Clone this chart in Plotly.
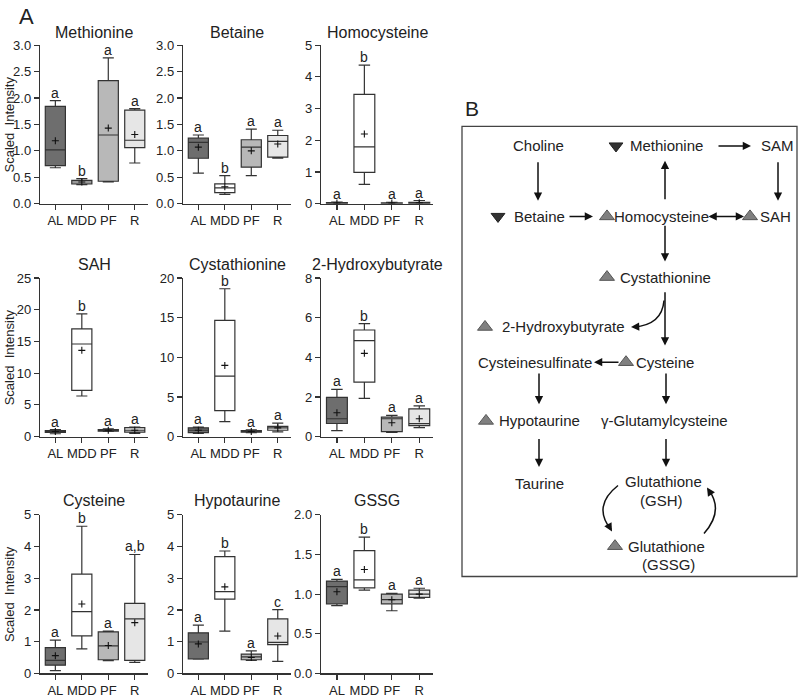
import plotly.graph_objects as go

# ---------------- data ----------------
GROUPS = ["AL", "MDD", "PF", "R"]

# each row: [lowerfence, q1, median, q3, upperfence, mean] for AL, MDD, PF, R
methionine = [[0.68, 0.72, 1.02, 1.84, 1.95, 1.19],
              [0.36, 0.375, 0.41, 0.44, 0.475, 0.41],
              [0.41, 0.425, 1.30, 2.33, 2.76, 1.43],
              [0.77, 1.06, 1.20, 1.77, 1.80, 1.31]]
methionine_letters = ["a", "b", "a", "a"]

betaine = [[0.58, 0.86, 1.16, 1.24, 1.30, 1.07],
           [0.175, 0.21, 0.30, 0.375, 0.53, 0.32],
           [0.53, 0.69, 1.07, 1.21, 1.41, 1.00],
           [0.86, 0.88, 1.18, 1.29, 1.39, 1.13]]
betaine_letters = ["a", "b", "a", "a"]

homocysteine = [[0.005, 0.01, 0.02, 0.035, 0.05, 0.02],
                [0.61, 0.99, 1.79, 3.45, 4.37, 2.20],
                [0.005, 0.01, 0.02, 0.03, 0.04, 0.02],
                [0.005, 0.01, 0.02, 0.04, 0.10, 0.03]]
homocysteine_letters = ["a", "b", "a", "a"]

sah = [[0.45, 0.65, 0.80, 0.95, 1.10, 0.80],
       [6.4, 7.3, 14.6, 17.0, 19.35, 13.6],
       [0.80, 0.85, 1.00, 1.10, 1.20, 1.00],
       [0.50, 0.70, 1.00, 1.40, 1.50, 1.00]]
sah_letters = ["a", "b", "a", "a"]

cystathionine = [[0.40, 0.50, 0.80, 1.10, 1.20, 0.80],
                 [1.89, 3.28, 7.62, 14.67, 18.65, 8.98],
                 [0.50, 0.55, 0.65, 0.75, 0.85, 0.65],
                 [0.60, 0.80, 1.10, 1.30, 1.70, 1.10]]
cystathionine_letters = ["a", "b", "a", "a"]

hydroxybutyrate = [[0.30, 0.66, 0.90, 1.98, 2.38, 1.20],
                   [1.93, 2.75, 4.84, 5.38, 5.70, 4.20],
                   [0.21, 0.25, 0.90, 0.98, 1.07, 0.70],
                   [0.45, 0.55, 0.65, 1.40, 1.55, 0.90]]
hydroxybutyrate_letters = ["a", "b", "a", "a"]

cysteine = [[0.09, 0.26, 0.41, 0.81, 1.05, 0.56],
            [0.77, 1.18, 1.95, 3.13, 4.64, 2.19],
            [0.40, 0.43, 0.87, 1.31, 1.33, 0.88],
            [0.35, 0.41, 1.72, 2.21, 3.75, 1.60]]
cysteine_letters = ["a", "b", "a", "a,b"]

hypotaurine = [[0.45, 0.46, 0.99, 1.28, 1.52, 0.93],
               [1.33, 2.34, 2.58, 3.68, 3.86, 2.73],
               [0.41, 0.43, 0.52, 0.61, 0.71, 0.50],
               [0.38, 0.91, 0.98, 1.72, 2.01, 1.18]]
hypotaurine_letters = ["a", "b", "a", "c"]

gssg = [[0.856, 0.877, 1.095, 1.165, 1.185, 1.03],
        [1.05, 1.08, 1.18, 1.55, 1.72, 1.31],
        [0.79, 0.877, 0.93, 1.00, 1.01, 0.93],
        [0.95, 0.96, 1.00, 1.05, 1.074, 1.00]]
gssg_letters = ["a", "b", "a", "a"]

TITLES = ["Methionine", "Betaine", "Homocysteine",
          "SAH", "Cystathionine", "2-Hydroxybutyrate",
          "Cysteine", "Hypotaurine", "GSSG"]
STATS = [methionine, betaine, homocysteine, sah, cystathionine,
         hydroxybutyrate, cysteine, hypotaurine, gssg]
LETTERS = [methionine_letters, betaine_letters, homocysteine_letters,
           sah_letters, cystathionine_letters, hydroxybutyrate_letters,
           cysteine_letters, hypotaurine_letters, gssg_letters]
Y_MAX = [3.0, 3.0, 5, 25, 20, 8, 5, 5, 2.0]
Y_DTICK = [0.5, 0.5, 1, 5, 5, 2, 1, 1, 0.5]
Y_FMT = [".1f", ".1f", "d", "d", "d", "d", "d", "d", ".1f"]

# ---------------- style / layout ----------------
W, H = 800, 699
FONT = "Liberation Sans, Arial, sans-serif"
FILLS = ["#6e6e6e", "#ffffff", "#b8b8b8", "#e6e6e6"]
LINE = "#333333"
COL_X = [(40, 148), (183, 291), (321, 433)]
ROW_Y = [(39, 201), (277, 439), (519, 681)]
TITLE_Y = [26, 263, 504]

fig = go.Figure()
layout = dict(width=W, height=H, margin=dict(l=0, r=0, t=0, b=0),
              paper_bgcolor="white", plot_bgcolor="rgba(0,0,0,0)",
              font=dict(family=FONT, color="#222"), showlegend=False,
              boxmode="overlay")
annotations = []
shapes = []

for k in range(9):
    r, c = divmod(k, 3)
    n = k + 1
    xn = "x" if n == 1 else f"x{n}"
    yn = "y" if n == 1 else f"y{n}"
    xk = "xaxis" if n == 1 else f"xaxis{n}"
    yk = "yaxis" if n == 1 else f"yaxis{n}"
    x0, x1 = COL_X[c]
    ytop, ybot = ROW_Y[r]
    layout[xk] = dict(domain=[x0 / W, x1 / W], range=[-0.58, 3.5], type="linear",
                      tickvals=[0, 1, 2, 3], ticktext=GROUPS, showline=True,
                      linecolor=LINE, linewidth=1.2, ticks="outside", ticklen=5,
                      tickcolor=LINE, tickwidth=1.2, showgrid=False, zeroline=False,
                      tickfont=dict(size=13, family=FONT, color="#222"),
                      anchor=yn, fixedrange=True)
    layout[yk] = dict(domain=[1 - ybot / H, 1 - ytop / H], range=[0, Y_MAX[k]],
                      dtick=Y_DTICK[k], tick0=0, tickformat=Y_FMT[k], showline=True,
                      linecolor=LINE, linewidth=1.2, ticks="outside", ticklen=5,
                      tickcolor=LINE, tickwidth=1.2, showgrid=False, zeroline=False,
                      tickfont=dict(size=13, family=FONT, color="#222"),
                      anchor=xn, fixedrange=True)
    st = STATS[k]
    for g in range(4):
        lo, q1, med, q3, hi, mean = st[g]
        fig.add_trace(go.Box(x=[g], q1=[q1], median=[med], q3=[q3],
                             lowerfence=[lo], upperfence=[hi],
                             fillcolor=FILLS[g], line=dict(color=LINE, width=1.2),
                             width=0.76, whiskerwidth=0.55, boxpoints=False,
                             xaxis=xn, yaxis=yn, hoverinfo="skip", showlegend=False))
        annotations.append(dict(x=g, y=hi, xref=xn, yref=yn, text=LETTERS[k][g],
                                showarrow=False, yanchor="bottom", yshift=-2,
                                font=dict(size=14, family=FONT, color="#222")))
    fig.add_trace(go.Scatter(x=list(range(4)), y=[s[5] for s in st], mode="markers",
                             marker=dict(symbol="cross-thin", size=5,
                                         line=dict(width=1.1, color="#111")),
                             xaxis=xn, yaxis=yn, hoverinfo="skip", showlegend=False))
    annotations.append(dict(x=(x0 + x1) / 2 / W, y=1 - TITLE_Y[r] / H, xref="paper",
                            yref="paper", text=TITLES[k], showarrow=False,
                            xanchor="center", yanchor="middle",
                            font=dict(size=16, family=FONT, color="#222")))
    if c == 0:
        annotations.append(dict(x=9 / W, y=1 - (ytop + ybot) / 2 / H, xref="paper",
                                yref="paper", text="Scaled  Intensity", textangle=-90,
                                showarrow=False, xanchor="center", yanchor="middle",
                                font=dict(size=13, family=FONT, color="#222")))

# ---------------- pathway diagram (panel B) on a pixel-coordinate overlay ----------------
layout["xaxis10"] = dict(domain=[0, 1], range=[0, W], visible=False, fixedrange=True,
                         anchor="y10")
layout["yaxis10"] = dict(domain=[0, 1], range=[H, 0], visible=False, fixedrange=True,
                         anchor="x10")

annotations.append(dict(x=26, y=10, xref="x10", yref="y10", text="A", showarrow=False,
                        font=dict(size=22, family=FONT, color="#222")))
annotations.append(dict(x=472, y=104, xref="x10", yref="y10", text="B", showarrow=False,
                        font=dict(size=21, family=FONT, color="#222")))
shapes.append(dict(type="rect", xref="x10", yref="y10", x0=462, y0=122, x1=797, y1=582,
                   line=dict(color="#444", width=1.3), fillcolor="rgba(0,0,0,0)"))

node_text = [("Choline", 538, 142), ("Methionine", 666, 142), ("SAM", 777, 142),
             ("Betaine", 539, 214), ("Homocysteine", 661, 214), ("SAH", 775, 214),
             ("Cystathionine", 665, 276), ("2-Hydroxybutyrate", 563, 327),
             ("Cysteinesulfinate", 535, 363), ("Cysteine", 665, 363),
             ("Hypotaurine", 539, 423), ("γ-Glutamylcysteine", 664, 423),
             ("Taurine", 539, 487), ("Glutathione", 663, 485), ("(GSH)", 661, 504),
             ("Glutathione", 666, 551), ("(GSSG)", 668, 570)]
for t, x, y in node_text:
    annotations.append(dict(x=x, y=y, xref="x10", yref="y10", text=t, showarrow=False,
                            xanchor="center", yanchor="middle",
                            font=dict(size=15, family=FONT, color="#222")))

tri_up_x = [607, 750, 607, 485, 626, 486, 615]
tri_up_y = [214, 214, 276, 327, 363, 423, 551]
tri_dn_x = [616, 498]
tri_dn_y = [142, 214]
fig.add_trace(go.Scatter(x=tri_up_x, y=tri_up_y, mode="markers", xaxis="x10", yaxis="y10",
                         marker=dict(symbol="triangle-up", size=13, color="#808080",
                                     line=dict(color="#555", width=1)),
                         hoverinfo="skip", showlegend=False))
fig.add_trace(go.Scatter(x=tri_dn_x, y=tri_dn_y, mode="markers", xaxis="x10", yaxis="y10",
                         marker=dict(symbol="triangle-down", size=12, color="#333",
                                     line=dict(color="#222", width=1)),
                         hoverinfo="skip", showlegend=False))

arrows = [((717, 142), (751, 142), "end"), ((538, 157), (538, 198), "end"),
          ((778, 157), (778, 198), "end"), ((568, 214), (593, 214), "end"),
          ((707, 214), (744, 214), "end+start"), ((665, 198), (665, 157), "end"),
          ((665, 222), (665, 260), "end"), ((665, 290), (665, 346), "end"),
          ((620, 363), (594, 363), "end"), ((539, 373), (539, 406), "end"),
          ((666, 373), (666, 406), "end"), ((539, 440), (539, 470), "end"),
          ((666, 440), (666, 470), "end")]
for (tx, ty), (hx, hy), side in arrows:
    annotations.append(dict(x=hx, y=hy, ax=tx, ay=ty, xref="x10", yref="y10",
                            axref="x10", ayref="y10", text="", showarrow=True,
                            arrowhead=2, arrowsize=1.1, arrowwidth=1.5,
                            arrowcolor="#111", arrowside=side, standoff=0,
                            startstandoff=0))

curves = ["M 664 300 Q 662 325 634 327",
          "M 618 489 Q 592 510 611 534",
          "M 704 538 Q 724 515 709 494"]
for p in curves:
    shapes.append(dict(type="path", path=p, xref="x10", yref="y10",
                       line=dict(color="#111", width=1.5)))
curve_heads = [((640, 326.6), (631, 327)), ((607, 527), (612, 536)),
               ((712, 499), (707, 491))]
for (tx, ty), (hx, hy) in curve_heads:
    annotations.append(dict(x=hx, y=hy, ax=tx, ay=ty, xref="x10", yref="y10",
                            axref="x10", ayref="y10", text="", showarrow=True,
                            arrowhead=2, arrowsize=1.1, arrowwidth=1.5,
                            arrowcolor="#111", standoff=0, startstandoff=0))

layout["annotations"] = annotations
layout["shapes"] = shapes
fig.update_layout(**layout)

fig.write_html("out.html", config={"displayModeBar": False, "staticPlot": True},
               post_script="document.body.style.margin='0';")
